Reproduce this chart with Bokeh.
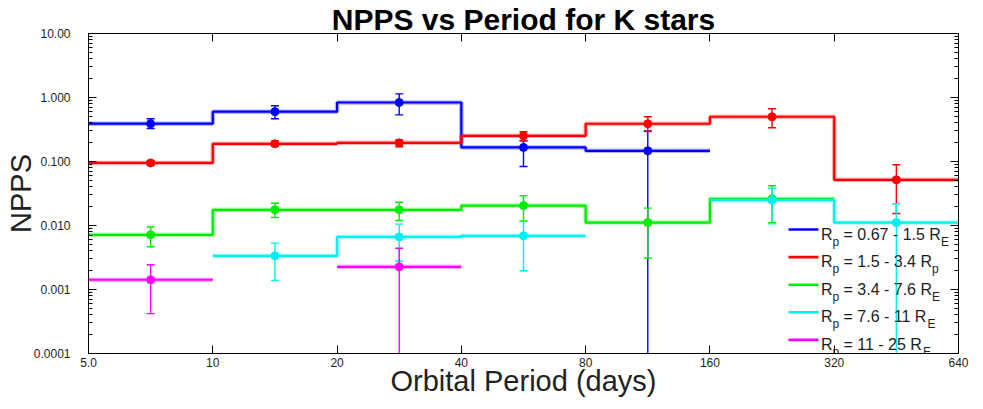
import numpy as np
from bokeh.plotting import figure
from bokeh.models import FixedTicker, LogAxis, CustomJSTickFormatter, Label, BoxAnnotation
from bokeh.embed import file_html
from bokeh.resources import INLINE

# ---------------- data ----------------
BIN_EDGES = [5, 10, 20, 40, 80, 160, 320, 640]
X_TICKS = [5, 10, 20, 40, 80, 160, 320, 640]
X_TICK_LABELS = ["5.0", "10", "20", "40", "80", "160", "320", "640"]
Y_TICKS = [0.0001, 0.001, 0.01, 0.1, 1.0, 10.0]
Y_TICK_LABELS = ["0.0001", "0.001", "0.010", "0.100", "1.000", "10.00"]

# None = empty bin ; 1e-6 = error bar extends below the axis
NPPS_067_15 = [0.39, 0.60, 0.835, 0.166, 0.147, None, None]
HI_067_15 = [0.465, 0.742, 1.14, 0.21, 0.30, None, None]
LO_067_15 = [0.328, 0.465, 0.536, 0.0835, 1e-6, None, None]

NPPS_15_34 = [0.095, 0.189, 0.196, 0.252, 0.389, 0.50, 0.0518]
HI_15_34 = [0.103, 0.208, 0.218, 0.291, 0.50, 0.666, 0.089]
LO_15_34 = [0.087, 0.173, 0.170, 0.21, 0.294, 0.336, 0.0154]

NPPS_34_76 = [0.00715, 0.0176, 0.0176, 0.0205, 0.0111, 0.0261, None]
HI_34_76 = [0.0095, 0.0223, 0.0231, 0.0291, 0.0187, 0.0418, None]
LO_34_76 = [0.00465, 0.0133, 0.012, 0.0118, 0.0031, 0.0111, None]

NPPS_76_11 = [None, 0.00336, 0.00665, 0.0069, None, 0.0249, 0.0111]
HI_76_11 = [None, 0.0053, 0.0105, 0.0115, None, 0.0383, 0.0219]
LO_76_11 = [None, 0.00139, 0.00277, 0.00196, None, 0.0106, 1e-6]

NPPS_11_25 = [0.00142, None, 0.00226, None, None, None, None]
HI_11_25 = [0.00243, None, 0.00442, None, None, None, None]
LO_11_25 = [0.00042, None, 1e-6, None, None, None, None]

LEGEND_RANGES = ["0.67 - 1.5", "1.5 - 3.4", "3.4 - 7.6", "7.6 - 11", "11 - 25"]
LEGEND_SUBS = ["E", "p", "E", "E", "E"]
COLORS = ["#0000ff", "#ff0000", "#00ee00", "#00f0f0", "#ff00ff"]

SERIES = [
    (NPPS_067_15, HI_067_15, LO_067_15),
    (NPPS_15_34, HI_15_34, LO_15_34),
    (NPPS_34_76, HI_34_76, LO_34_76),
    (NPPS_76_11, HI_76_11, LO_76_11),
    (NPPS_11_25, HI_11_25, LO_11_25),
]

FONT = "Liberation Sans"
TXT = "#1e1e1e"

p = figure(width=975, height=401, x_axis_type="log", y_axis_type="log",
           x_range=(5, 640), y_range=(1e-4, 10),
           output_backend="svg", toolbar_location=None,
           min_border_left=88, min_border_right=17, min_border_top=33, min_border_bottom=48,
           title="NPPS vs Period for K stars")
p.background_fill_color = "white"
p.border_fill_color = "white"
p.outline_line_color = "black"
p.xgrid.visible = False
p.ygrid.visible = False

p.title.align = "center"
p.title.text_font = FONT
p.title.text_font_size = "30px"
p.title.text_font_style = "bold"
p.title.text_color = "black"
p.title.standoff = -5

y_minor = [m * 10.0 ** e for e in range(-4, 1) for m in range(2, 10)]

# bottom axis
xa = p.xaxis[0]
xa.ticker = FixedTicker(ticks=X_TICKS)
xa.major_label_overrides = {t: s for t, s in zip(X_TICKS, X_TICK_LABELS)}
xa.axis_label = "Orbital Period (days)"
xa.axis_label_text_font = FONT
xa.axis_label_text_font_size = "29px"
xa.axis_label_text_font_style = "normal"
xa.axis_label_text_color = "#222222"
xa.axis_label_standoff = -5
xa.major_label_text_font = FONT
xa.major_label_text_font_size = "12px"
xa.major_label_text_color = TXT
xa.major_label_standoff = 4
xa.major_tick_in = 8
xa.major_tick_out = 0
xa.minor_tick_in = 0
xa.minor_tick_out = 0
xa.axis_line_color = "black"

# left axis
ya = p.yaxis[0]
ya.ticker = FixedTicker(ticks=Y_TICKS, minor_ticks=y_minor)
ya.major_label_overrides = {t: s for t, s in zip(Y_TICKS, Y_TICK_LABELS)}
ya.axis_label = "NPPS"
ya.axis_label_text_font = FONT
ya.axis_label_text_font_size = "29px"
ya.axis_label_text_font_style = "normal"
ya.axis_label_text_color = "#222222"
ya.axis_label_standoff = -6
ya.major_label_text_font = FONT
ya.major_label_text_font_size = "12px"
ya.major_label_text_color = TXT
ya.major_label_standoff = 18
ya.major_tick_in = 8
ya.major_tick_out = 0
ya.minor_tick_in = 4
ya.minor_tick_out = 0
ya.axis_line_color = "black"

blank = CustomJSTickFormatter(code="return ''")
top = LogAxis(ticker=FixedTicker(ticks=X_TICKS), formatter=blank,
              major_label_text_font_size="0px", major_label_standoff=0,
              major_tick_in=8, major_tick_out=0, minor_tick_in=0, minor_tick_out=0,
              axis_line_color="black")
p.add_layout(top, "above")
right = LogAxis(ticker=FixedTicker(ticks=Y_TICKS, minor_ticks=y_minor), formatter=blank,
                major_label_text_font_size="0px", major_label_standoff=0,
                major_tick_in=8, major_tick_out=0, minor_tick_in=4, minor_tick_out=0,
                axis_line_color="black")
p.add_layout(right, "right")

centers = [float(np.sqrt(BIN_EDGES[i] * BIN_EDGES[i + 1])) for i in range(len(BIN_EDGES) - 1)]


def step_runs(vals):
    runs, xs, ys = [], [], []
    for i, v in enumerate(vals):
        if v is None:
            if xs:
                runs.append((xs, ys))
                xs, ys = [], []
            continue
        xs += [BIN_EDGES[i], BIN_EDGES[i + 1]]
        ys += [v, v]
    if xs:
        runs.append((xs, ys))
    return runs


for (vals, hi, lo), c in zip(SERIES, COLORS):
    runs = step_runs(vals)
    xs = [r[0] for r in runs]
    ys = [r[1] for r in runs]
    p.multi_line(xs, ys, line_color=c, line_width=4.5, line_alpha=0.3)
    p.multi_line(xs, ys, line_color=c, line_width=2.2)

for (vals, hi, lo), c in zip(SERIES, COLORS):
    idx = [i for i, v in enumerate(vals) if v is not None]
    xc = [centers[i] for i in idx]
    yv = [vals[i] for i in idx]
    yh = [hi[i] for i in idx]
    yl = [lo[i] for i in idx]
    p.segment(x0=xc, y0=yl, x1=xc, y1=yh, line_color=c, line_width=1.4)
    p.scatter(x=xc + xc, y=yh + yl, marker="dash", size=8, line_color=c, line_width=1.4)
    p.scatter(x=xc, y=yv, marker="circle", size=8, fill_color=c, line_color=c)

# legend (frame-relative screen coordinates)
SUB2_DX = [97.4, 88.5, 88.5, 84.0, 79.6]
for k, (rng, sub, c) in enumerate(zip(LEGEND_RANGES, LEGEND_SUBS, COLORS)):
    ly = 124 - 27.6 * k
    p.add_layout(BoxAnnotation(left=700, right=730, bottom=ly - 1.3, top=ly + 1.3,
                               left_units="screen", right_units="screen",
                               bottom_units="screen", top_units="screen",
                               fill_color=c, fill_alpha=1.0, line_color=None))
    base = 119.5 - 27.6 * k
    sbase = 112 - 27.6 * k
    common = dict(x_units="screen", y_units="screen", text_font=FONT, text_color=TXT,
                  text_baseline="alphabetic", text_align="left")
    p.add_layout(Label(x=732.5, y=base, text="R", text_font_size="16px", **common))
    p.add_layout(Label(x=744, y=sbase, text="p", text_font_size="12px", **common))
    p.add_layout(Label(x=755, y=base, text="= " + rng + " R", text_font_size="16px", **common))
    p.add_layout(Label(x=755 + SUB2_DX[k], y=sbase, text=sub, text_font_size="12px", **common))

open("out.html", "w").write(file_html(p, INLINE))
